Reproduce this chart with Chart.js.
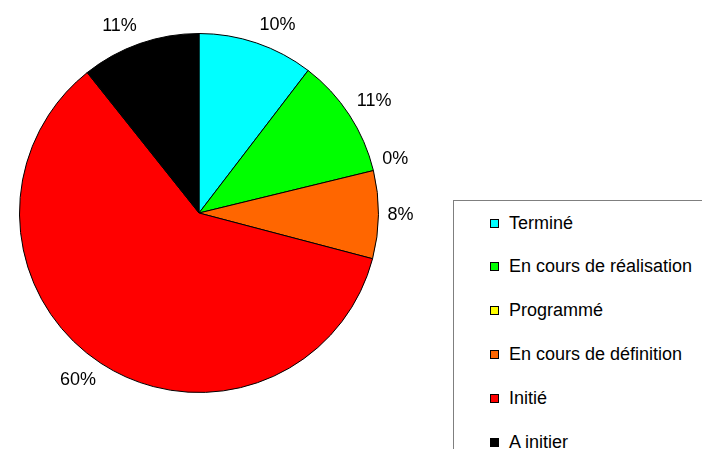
<!DOCTYPE html>
<html>
<head>
<meta charset="utf-8">
<script src="https://cdn.jsdelivr.net/npm/chart.js@4/dist/chart.umd.min.js"></script>
<style>
  html, body { margin: 0; padding: 0; background: #fff; overflow: hidden; }
  #wrap { position: relative; width: 702px; height: 449px; }
  #pie { position: absolute; left: 0; top: 0; }
  #legend { position: absolute; left: 453px; top: 200px; width: 300px; height: 300px; border: 1px solid #7f7f7f; box-sizing: border-box; background: #fff; }
  .lg-row { position: absolute; left: 36px; height: 20px; display: flex; align-items: center; white-space: nowrap;
            font: 18px "Liberation Sans", Arial, sans-serif; color: #000; }
  .lg-box { width: 7px; height: 7px; border: 1px solid #000; margin-right: 10px; }
</style>
</head>
<body>
<div id="wrap">
  <canvas id="pie" width="702" height="449"></canvas>
  <div id="legend"></div>
</div>
<script>
const labels = ['Terminé', 'En cours de réalisation', 'Programmé', 'En cours de définition', 'Initié', 'A initier'];
const values = [10.4, 10.8, 0, 7.9, 60.2, 10.7];
const colors = ['#00ffff', '#00ff00', '#ffff00', '#ff6600', '#ff0000', '#000000'];

const FONT = '18px "Liberation Sans", Arial, sans-serif';

// percent labels outside the slices, aligned away from the centre
const pctLabels = {
  id: 'pctLabels',
  afterDatasetsDraw(chart) {
    const ctx = chart.ctx;
    const meta = chart.getDatasetMeta(0);
    const total = values.reduce((a, b) => a + b, 0);
    ctx.save();
    ctx.font = FONT;
    ctx.fillStyle = '#000';
    meta.data.forEach((arc, i) => {
      const mid = (arc.startAngle + arc.endAngle) / 2;
      const r = arc.outerRadius + 9;
      const c = Math.cos(mid), s = Math.sin(mid);
      const x = arc.x + c * r, y = arc.y + s * r;
      ctx.textAlign = c > 0.1 ? 'left' : (c < -0.1 ? 'right' : 'center');
      ctx.textBaseline = s < -0.1 ? 'bottom' : (s > 0.1 ? 'top' : 'middle');
      ctx.fillText(Math.round(values[i] / total * 100) + '%', x, y);
    });
    ctx.restore();
  }
};

new Chart(document.getElementById('pie'), {
  type: 'pie',
  data: {
    labels,
    datasets: [{ data: values, backgroundColor: colors, borderColor: '#000', borderWidth: 1 }]
  },
  options: {
    responsive: false,
    animation: false,
    layout: { padding: { left: 19, top: 33, right: 323, bottom: 56 } },
    plugins: { legend: { display: false }, tooltip: { enabled: false } }
  },
  plugins: [pctLabels]
});

const lg = document.getElementById('legend');
labels.forEach((l, i) => {
  const row = document.createElement('div');
  row.className = 'lg-row';
  row.style.top = (22 + i * 43.8 - 10) + 'px';
  row.innerHTML = `<span class="lg-box" style="background:${colors[i]}"></span><span>${l}</span>`;
  lg.appendChild(row);
});
</script>
</body>
</html>
